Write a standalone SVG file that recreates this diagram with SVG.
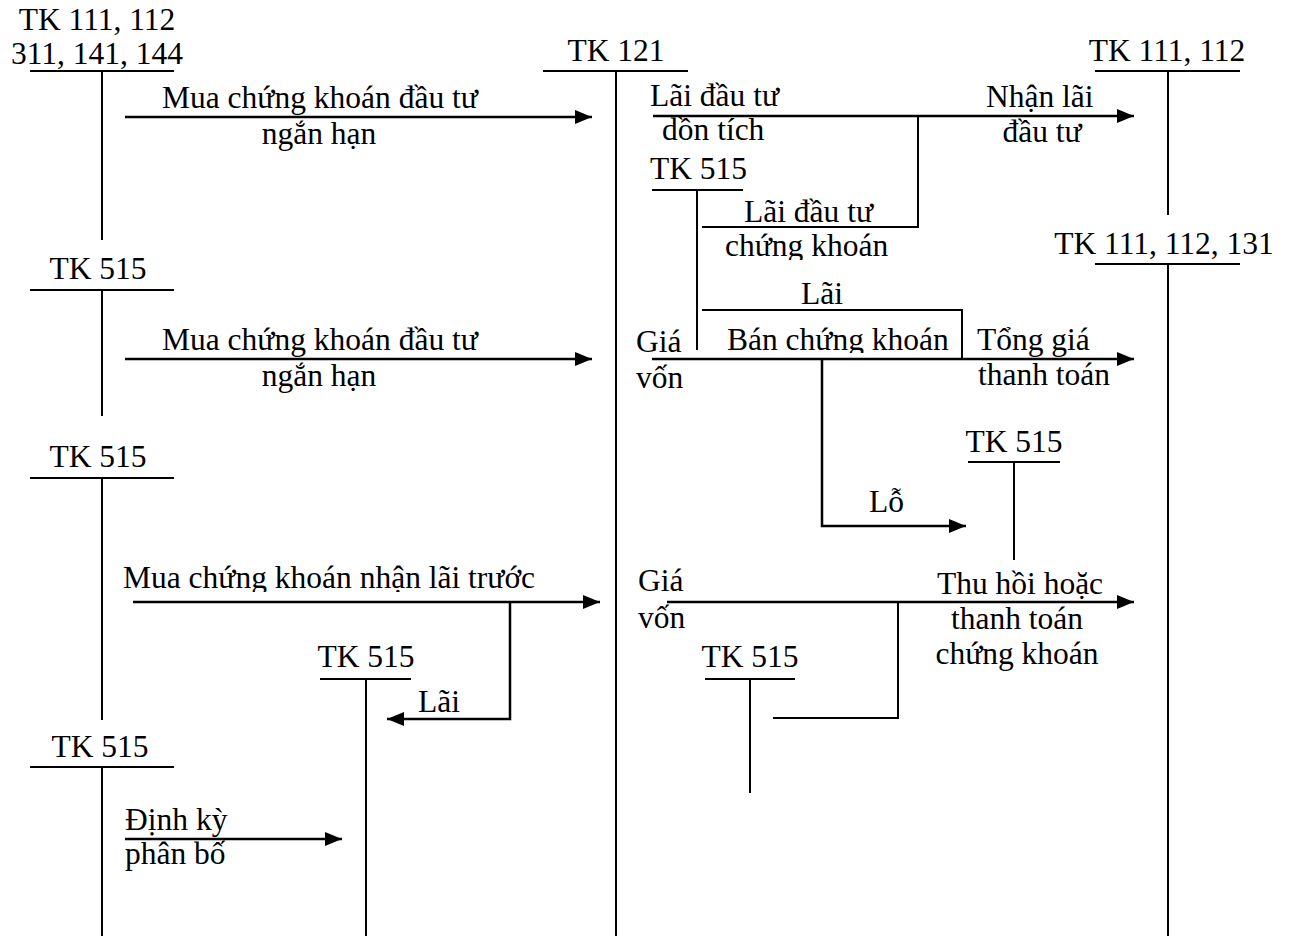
<svg xmlns="http://www.w3.org/2000/svg" width="1293" height="936" viewBox="0 0 1293 936">
<style>
text{font-family:"Liberation Serif","Times New Roman",serif;font-size:31.5px;fill:#000}
.c{text-anchor:middle}
.t{stroke:#000;stroke-width:2;fill:none}
.a{stroke:#000;stroke-width:2.5;fill:none}
</style>
<defs>
<marker id="ah" markerUnits="userSpaceOnUse" markerWidth="18" markerHeight="16" refX="17" refY="8" orient="auto">
<path d="M0,1 L17,8 L0,15 z" fill="#000"/>
</marker>
<clipPath id="cl1"><rect x="700" y="200" width="220" height="60"/></clipPath>
<clipPath id="cl2"><rect x="700" y="320" width="260" height="33"/></clipPath>
<clipPath id="cl3"><rect x="110" y="560" width="440" height="32"/></clipPath>
</defs>
<rect width="1293" height="936" fill="#fff"/>

<g id="tk111-left">
<text class="c" x="97" y="30">TK 111, 112</text>
<text class="c" x="97" y="64">311, 141, 144</text>
<line class="t" x1="30" y1="71" x2="174" y2="71"/>
<line class="t" x1="102" y1="71" x2="102" y2="240"/>
</g>
<g id="tk515-l1">
<text class="c" x="98" y="279">TK 515</text>
<line class="t" x1="30" y1="290" x2="174" y2="290"/>
<line class="t" x1="102" y1="290" x2="102" y2="416"/>
</g>
<g id="tk515-l2">
<text class="c" x="98" y="467">TK 515</text>
<line class="t" x1="30" y1="478" x2="174" y2="478"/>
<line class="t" x1="102" y1="478" x2="102" y2="720"/>
</g>
<g id="tk515-l3">
<text class="c" x="100" y="757">TK 515</text>
<line class="t" x1="30" y1="767" x2="174" y2="767"/>
<line class="t" x1="102" y1="767" x2="102" y2="936"/>
</g>
<g id="tk515-mid">
<text class="c" x="366" y="667">TK 515</text>
<line class="t" x1="320" y1="679" x2="411" y2="679"/>
<line class="t" x1="366" y1="679" x2="366" y2="936"/>
</g>
<g id="tk121">
<text class="c" x="616" y="61">TK 121</text>
<line class="t" x1="543" y1="71" x2="688" y2="71"/>
<line class="t" x1="616" y1="71" x2="616" y2="936"/>
</g>
<g id="tk515-r1">
<text x="650" y="179">TK 515</text>
<line class="t" x1="652" y1="190" x2="743" y2="190"/>
<line class="t" x1="697" y1="190" x2="697" y2="350"/>
</g>
<g id="tk515-r2">
<text class="c" x="1014" y="452">TK 515</text>
<line class="t" x1="968" y1="462" x2="1060" y2="462"/>
<line class="t" x1="1014" y1="462" x2="1014" y2="560"/>
</g>
<g id="tk515-r3">
<text class="c" x="750" y="667">TK 515</text>
<line class="t" x1="705" y1="679" x2="795" y2="679"/>
<line class="t" x1="750" y1="679" x2="750" y2="793"/>
</g>
<g id="tk111-right">
<text class="c" x="1167" y="61">TK 111, 112</text>
<line class="t" x1="1095" y1="71" x2="1240" y2="71"/>
<line class="t" x1="1168" y1="71" x2="1168" y2="215"/>
</g>
<g id="tk111-131">
<text class="c" x="1164" y="254">TK 111, 112, 131</text>
<line class="t" x1="1095" y1="264" x2="1240" y2="264"/>
<line class="t" x1="1168" y1="264" x2="1168" y2="936"/>
</g>

<g id="connectors">
<line class="a" x1="125" y1="117" x2="592" y2="117" marker-end="url(#ah)"/>
<line class="a" x1="125" y1="359" x2="592" y2="359" marker-end="url(#ah)"/>
<line class="a" x1="133" y1="602" x2="600" y2="602" marker-end="url(#ah)"/>
<polyline class="a" points="510,602 510,719 387,719" marker-end="url(#ah)"/>
<line class="a" x1="125" y1="839" x2="342" y2="839" marker-end="url(#ah)"/>
<line class="a" x1="653" y1="116" x2="1134" y2="116" marker-end="url(#ah)"/>
<polyline class="t" points="918,116 918,227 702,227"/>
<polyline class="t" points="702,310 962,310 962,359"/>
<line class="a" x1="652" y1="359" x2="1134" y2="359" marker-end="url(#ah)"/>
<polyline class="a" points="822,359 822,526 966,526" marker-end="url(#ah)"/>
<line class="a" x1="667" y1="602" x2="1134" y2="602" marker-end="url(#ah)"/>
<polyline class="t" points="898,602 898,718 773,718"/>
</g>

<g id="labels">
<text x="162" y="108">Mua chứng khoán đầu tư</text>
<text class="c" x="319" y="144">ngắn hạn</text>
<text x="162" y="350">Mua chứng khoán đầu tư</text>
<text class="c" x="319" y="386">ngắn hạn</text>
<text x="123" y="588" clip-path="url(#cl3)">Mua chứng khoán nhận lãi trước</text>
<text x="418" y="712">Lãi</text>
<text x="125" y="830">Định kỳ</text>
<text x="125" y="864">phân bố</text>
<text x="650" y="106">Lãi đầu tư</text>
<text x="662" y="140">dồn tích</text>
<text x="986" y="107">Nhận lãi</text>
<text class="c" x="1042" y="142">đầu tư</text>
<text x="744" y="222">Lãi đầu tư</text>
<text x="725" y="256" clip-path="url(#cl1)">chứng khoán</text>
<text class="c" x="822" y="304">Lãi</text>
<text x="727" y="350" clip-path="url(#cl2)">Bán chứng khoán</text>
<text x="636" y="352">Giá</text>
<text x="636" y="388">vốn</text>
<text x="977" y="350">Tổng giá</text>
<text x="978" y="385">thanh toán</text>
<text x="869" y="512">Lỗ</text>
<text x="638" y="591">Giá</text>
<text x="638" y="628">vốn</text>
<text class="c" x="1020" y="594">Thu hồi hoặc</text>
<text class="c" x="1017" y="629">thanh toán</text>
<text class="c" x="1017" y="664">chứng khoán</text>
</g>
</svg>
